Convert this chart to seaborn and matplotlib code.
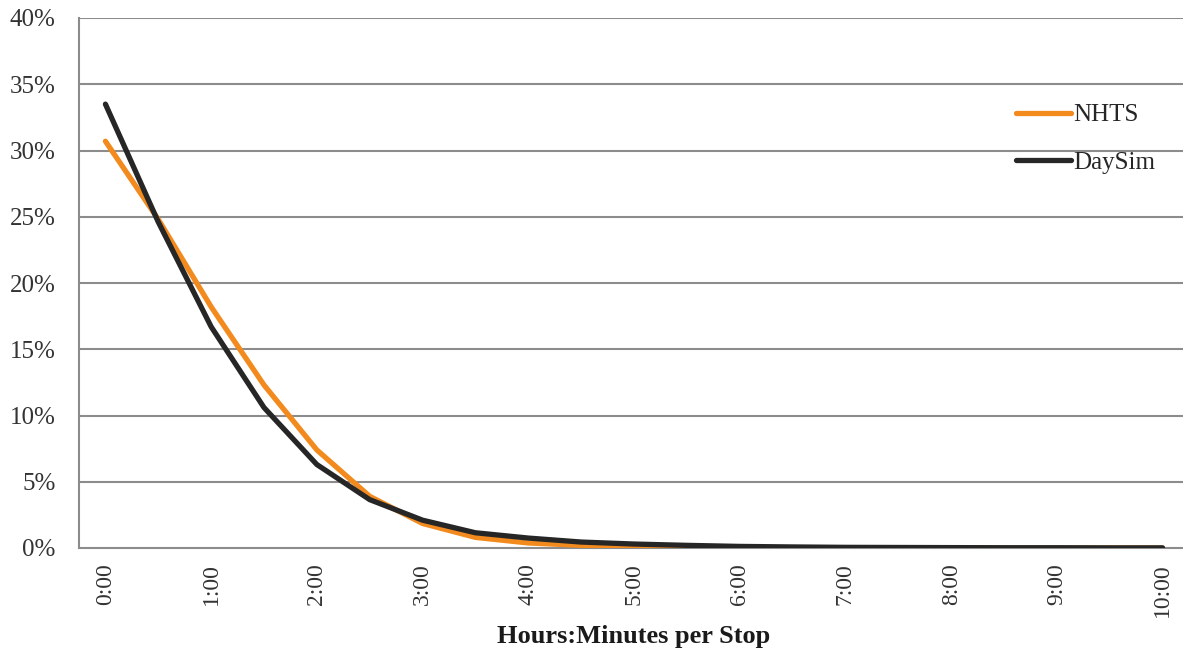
import matplotlib
matplotlib.use("Agg")
import matplotlib.pyplot as plt
import seaborn as sns
import pandas as pd
import numpy as np

categories = ["0:00", "0:30", "1:00", "1:30", "2:00", "2:30", "3:00", "3:30", "4:00", "4:30",
              "5:00", "5:30", "6:00", "6:30", "7:00", "7:30", "8:00", "8:30", "9:00", "9:30", "10:00"]
nhts = [30.7, 24.8, 18.2, 12.3, 7.4, 3.9, 1.85, 0.8, 0.38, 0.2,
        0.1, 0.05, 0.03, 0.02, 0.01, 0.01, 0.0, 0.0, 0.0, 0.0, 0.0]
daysim = [33.5, 24.6, 16.7, 10.6, 6.3, 3.65, 2.1, 1.15, 0.75, 0.45,
          0.3, 0.2, 0.12, 0.08, 0.05, 0.04, 0.03, 0.02, 0.02, 0.01, 0.01]
series_names = ["NHTS", "DaySim"]
tick_labels = ["0:00", "1:00", "2:00", "3:00", "4:00", "5:00", "6:00", "7:00", "8:00", "9:00", "10:00"]
y_ticks = [0, 5, 10, 15, 20, 25, 30, 35, 40]

df = pd.DataFrame({
    "idx": list(range(len(categories))) * 2,
    "value": nhts + daysim,
    "series": [series_names[0]] * len(categories) + [series_names[1]] * len(categories),
})

sns.set_style("white")
plt.rcParams["font.family"] = ["Liberation Serif", "DejaVu Serif"]

fig = plt.figure(figsize=(11.83, 6.56), dpi=100)
ax = fig.add_axes([79 / 1183, 108 / 656, 1110 / 1183, 530 / 656])

grid_c = "#8c8c8c"
for y in y_ticks[1:]:
    ax.axhline(y, color=grid_c, lw=1.5, zorder=0)

sns.lineplot(data=df, x="idx", y="value", hue="series",
             palette={"NHTS": "#F28A1E", "DaySim": "#262626"},
             linewidth=3.8, ax=ax, zorder=3, legend=True)

ax.set_xlim(-0.5, len(categories) - 0.5)
ax.set_ylim(0, 40)
ax.set_yticks(y_ticks)
ax.set_yticklabels([f"{v}%" for v in y_ticks], fontsize=18, color="#333333")
ax.set_xticks(range(0, len(categories), 2))
ax.set_xticklabels(tick_labels, rotation=90, fontsize=17, color="#333333")
ax.tick_params(axis="y", length=0, pad=17)
ax.tick_params(axis="x", length=0, pad=11)
ax.set_xlabel("Hours:Minutes per Stop", fontsize=19, fontweight="bold", color="#1a1a1a", labelpad=6)
ax.set_ylabel("")

for s in ["top", "right"]:
    ax.spines[s].set_visible(False)
ax.spines["left"].set_color(grid_c)
ax.spines["left"].set_linewidth(1.5)
ax.spines["bottom"].set_color(grid_c)
ax.spines["bottom"].set_linewidth(1.5)

handles, labels = ax.get_legend_handles_labels()
ax.legend(handles, labels, frameon=False, loc="upper left",
          bbox_to_anchor=(0.835, 0.857), fontsize=18, handlelength=2.2,
          handletextpad=0.1, labelspacing=1.0, borderaxespad=0)

fig.savefig("out.png", dpi=100)
